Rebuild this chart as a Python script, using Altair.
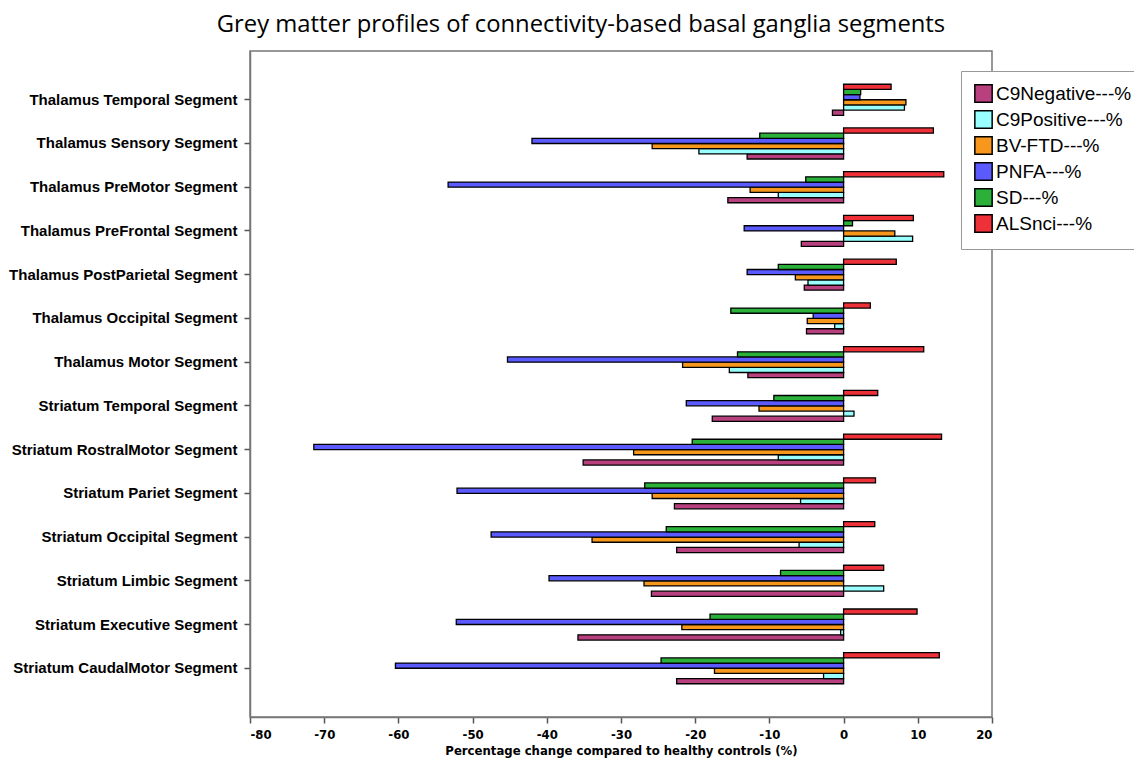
import altair as alt
import pandas as pd

segments = [
    "Thalamus Temporal Segment", "Thalamus Sensory Segment", "Thalamus PreMotor Segment",
    "Thalamus PreFrontal Segment", "Thalamus PostParietal Segment", "Thalamus Occipital Segment",
    "Thalamus Motor Segment", "Striatum Temporal Segment", "Striatum RostralMotor Segment",
    "Striatum Pariet Segment", "Striatum Occipital Segment", "Striatum Limbic Segment",
    "Striatum Executive Segment", "Striatum CaudalMotor Segment",
]

series_names = ["C9Negative---%", "C9Positive---%", "BV-FTD---%", "PNFA---%", "SD---%", "ALSnci---%"]
series_colors = ["#B8407E", "#99FFFF", "#F7981D", "#5A5AFF", "#2BB03A", "#EE3039"]

c9neg = [-1.5, -13.0, -15.6, -5.7, -5.3, -5.0, -12.9, -17.7, -35.1, -22.8, -22.5, -25.9, -35.8, -22.5]
c9pos = [8.2, -19.5, -8.8, 9.3, -4.8, -1.2, -15.4, 1.4, -8.8, -5.8, -6.0, 5.4, -0.4, -2.7]
bvftd = [8.4, -25.8, -12.6, 6.9, -6.5, -4.9, -21.7, -11.4, -28.3, -25.8, -33.9, -26.9, -21.8, -17.4]
pnfa = [2.2, -42.0, -53.3, -13.4, -13.0, -4.1, -45.3, -21.2, -71.4, -52.1, -47.5, -39.7, -52.2, -60.4]
sd = [2.3, -11.3, -5.1, 1.2, -8.8, -15.2, -14.3, -9.4, -20.4, -26.8, -23.9, -8.5, -18.0, -24.6]
als = [6.4, 12.1, 13.5, 9.4, 7.1, 3.6, 10.8, 4.6, 13.2, 4.3, 4.2, 5.4, 9.9, 12.9]

x_ticks = [-80, -70, -60, -50, -40, -30, -20, -10, 0, 10, 20]

rows = []
for name, vals in zip(series_names, [c9neg, c9pos, bvftd, pnfa, sd, als]):
    for seg, v in zip(segments, vals):
        rows.append({"segment": seg, "series": name, "value": v})
df = pd.DataFrame(rows)

offset_order = list(reversed(series_names))

narrow = "DejaVu Sans Condensed, Liberation Sans"

chart = alt.Chart(df).mark_bar(stroke="black", strokeWidth=1.3).encode(
    x=alt.X(
        "value:Q",
        scale=alt.Scale(domain=[-80, 20], nice=False, zero=False),
        axis=alt.Axis(
            values=x_ticks, grid=False, title="Percentage change compared to healthy controls (%)",
            labelExpr="toString(datum.value)",
            labelFont=narrow, labelFontWeight="bold", labelFontSize=13,
            labelColor="black", labelPadding=5, tickSize=6, tickColor="#555", tickWidth=1.5,
            domainColor="#777", domainWidth=1.5,
            titleFont=narrow, titleFontWeight="bold", titleFontSize=13,
            titleColor="black", titlePadding=3,
        ),
    ),
    y=alt.Y(
        "segment:N", sort=segments,
        scale=alt.Scale(paddingInner=0.29, paddingOuter=0.76),
        axis=alt.Axis(
            title=None, labelFont="Liberation Sans", labelFontWeight="bold", labelFontSize=15,
            labelColor="black", labelPadding=7, tickSize=6, tickColor="#555", tickWidth=1.5,
            domainColor="#777", domainWidth=1.5, labelLimit=400,
        ),
    ),
    yOffset=alt.YOffset("series:N", sort=offset_order, scale=alt.Scale(paddingInner=0, paddingOuter=0)),
    color=alt.Color(
        "series:N",
        scale=alt.Scale(domain=series_names, range=series_colors),
        legend=alt.Legend(
            title=None, orient="none", legendX=711, legendY=20,
            fillColor="white", strokeColor="#999", padding=13,
            symbolType="square", symbolSize=300, symbolStrokeColor="black", symbolStrokeWidth=1.5,
            symbolOpacity=1, labelFont="Liberation Sans", labelFontSize=19, labelColor="black",
            labelOffset=3, rowPadding=1, labelLimit=300,
        ),
    ),
).properties(
    width=742,
    height=666,
    title=alt.Title(
        "Grey matter profiles of connectivity-based basal ganglia segments",
        font="Open Sans", fontSize=23.8, fontWeight="normal", color="black",
        anchor="middle", dx=-40, offset=14,
    ),
    padding={"left": 242, "top": 43, "right": 142, "bottom": 44},
    autosize="none",
).configure_view(stroke="#777", strokeWidth=1.5)

chart.save("out.html", embed_options={"renderer": "svg", "actions": False})
